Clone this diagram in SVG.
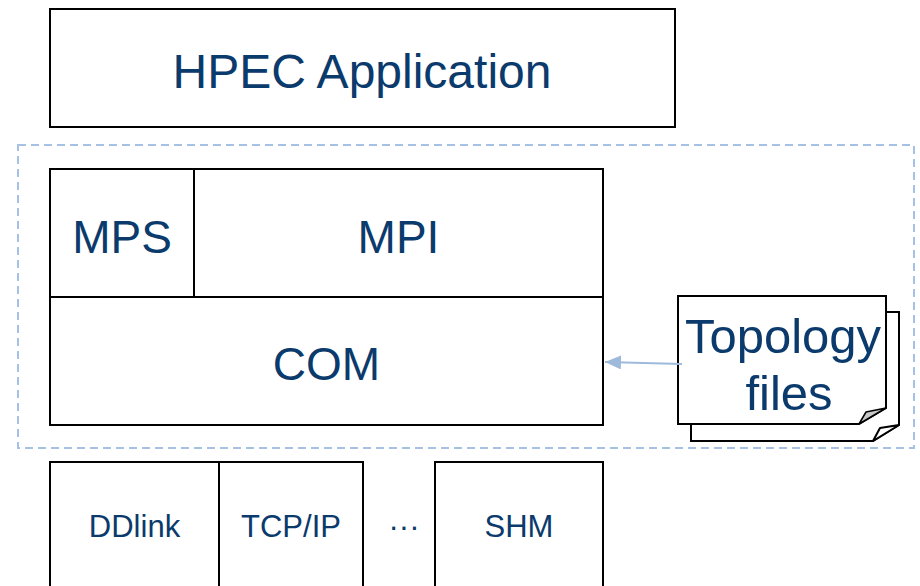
<svg xmlns="http://www.w3.org/2000/svg" width="920" height="586" viewBox="0 0 920 586">
<defs>
<style>
.box{fill:#ffffff;stroke:#000000;stroke-width:2}
.t{font-family:"Liberation Sans",Arial,sans-serif;fill:#0b3a6c;text-anchor:middle}
.big{font-size:46px}
.small{font-size:31px}
.dash{fill:none;stroke:#a6c1e3;stroke-width:2;stroke-dasharray:8 5}
.conn{stroke:#9dbadb;stroke-width:2;fill:none}
</style>
<marker id="arr" viewBox="0 0 16 14" refX="16" refY="7" markerWidth="16" markerHeight="14" markerUnits="userSpaceOnUse" orient="auto">
<path d="M0,0 L16,7 L0,14 z" fill="#9dbadb"/>
</marker>
</defs>
<rect width="920" height="586" fill="#ffffff"/>
<rect class="dash" x="18" y="145" width="896" height="303"/>
<g id="hpec">
<rect class="box" x="50" y="9" width="625" height="118"/>
<text class="t" style="font-size:48px" x="362" y="88">HPEC Application</text>
</g>
<g id="mps">
<rect class="box" x="50" y="169" width="144" height="128"/>
<text class="t big" x="122" y="253">MPS</text>
</g>
<g id="mpi">
<rect class="box" x="194" y="169" width="409" height="128"/>
<text class="t big" x="398.5" y="253">MPI</text>
</g>
<g id="com">
<rect class="box" x="50" y="297" width="553" height="128"/>
<text class="t big" x="326.5" y="380">COM</text>
</g>
<g id="topology">
<path class="box" d="M691,312 L899,312 L899,425 L873,441 L691,441 Z"/>
<path d="M873,441 L880,428 L899,425 Z" fill="#ffffff" stroke="#000" stroke-width="2" stroke-linejoin="round"/>
<path class="box" d="M678,296 L886,296 L886,408 L859,424 L678,424 Z"/>
<path d="M859,424 L866,412 L886,408 Z" fill="#c8c8c8" stroke="#000" stroke-width="1.5" stroke-linejoin="round"/>
<text class="t" style="font-size:49px" x="783" y="353">Topology</text>
<text class="t" style="font-size:49px" x="789" y="410">files</text>
</g>
<g id="ddlink">
<rect class="box" x="50" y="462" width="169" height="140"/>
<text class="t small" x="134.5" y="537">DDlink</text>
</g>
<g id="tcpip">
<rect class="box" x="219" y="462" width="144" height="140"/>
<text class="t small" x="291" y="537">TCP/IP</text>
</g>
<g id="dots">
<text class="t small" x="404" y="537">···</text>
</g>
<g id="shm">
<rect class="box" x="435" y="462" width="168" height="140"/>
<text class="t small" x="519" y="537">SHM</text>
</g>
<g id="connectors">
<line class="conn" x1="682" y1="364" x2="605" y2="362" marker-end="url(#arr)"/>
</g>
</svg>
